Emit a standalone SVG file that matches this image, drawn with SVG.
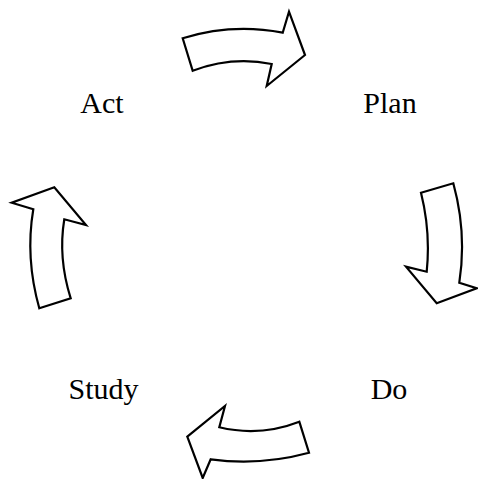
<svg xmlns="http://www.w3.org/2000/svg" width="478" height="479" viewBox="0 0 478 479">
<style>
.arrow{fill:#fff;stroke:#000;stroke-width:2.2;stroke-linejoin:miter}
.lbl{font-family:"Liberation Serif","Times New Roman",serif;font-size:30px;fill:#000;text-anchor:middle}
</style>
<rect width="478" height="479" fill="#fff"/>
<g id="connectors">
<path id="arrow-act-plan" class="arrow" d="M182.7,38.3 Q232,23 282.7,32.7 L289,11.7 L305,55 L266.7,86 L271.7,64 Q232,56 192.7,70.7 Z"/>
<path id="arrow-plan-do" class="arrow" d="M421,192.7 L453.3,183.3 Q467,233 459.3,282.7 L476.7,288.3 L436.7,303.3 L406,266.7 L426.7,271.7 Q430.8,232 421,192.7 Z"/>
<path id="arrow-do-study" class="arrow" d="M299.3,421.7 L309,452.7 Q260,466 210.7,459.3 L202.7,478 L187.3,436.7 L225,406 L219.3,427.3 Q260,437 299.3,421.7 Z"/>
<path id="arrow-study-act" class="arrow" d="M39.3,308.3 L70.7,298.3 Q57.9,258 64.3,219.3 L86,225 L54.3,187.3 L11.7,202.7 L33.3,209.3 Q25.1,258 39.3,308.3 Z"/>
</g>
<g id="node-act"><text class="lbl" x="102" y="113">Act</text></g>
<g id="node-plan"><text class="lbl" x="390" y="113">Plan</text></g>
<g id="node-do"><text class="lbl" x="389" y="399">Do</text></g>
<g id="node-study"><text class="lbl" x="103.5" y="399">Study</text></g>
</svg>
